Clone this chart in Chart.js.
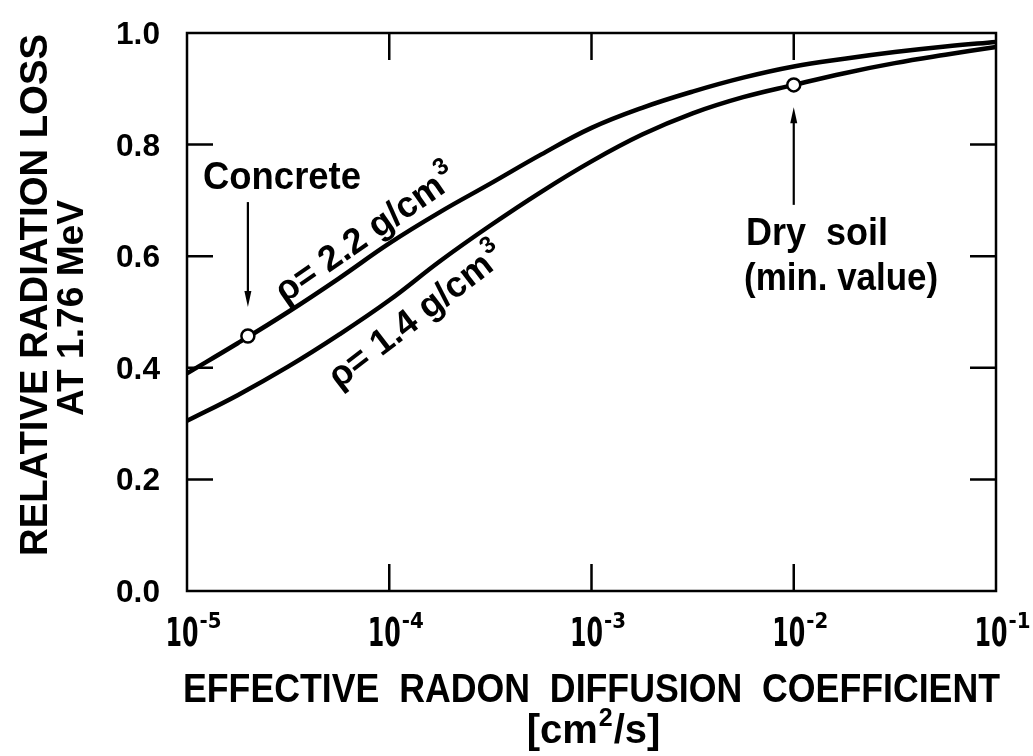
<!DOCTYPE html>
<html><head><meta charset="utf-8">
<script src="https://cdn.jsdelivr.net/npm/chart.js@4/dist/chart.umd.min.js"></script>
<style>html,body{margin:0;padding:0;background:#fff;} canvas{display:block;}</style>
</head><body>
<canvas id="c" width="1033" height="756"></canvas>
<script>
// ---- data ----
const diffusionCoeff = [1e-5, 1.78e-5, 3.16e-5, 5.62e-5, 1e-4, 1.78e-4, 3.16e-4, 5.62e-4, 1e-3, 1.78e-3, 3.16e-3, 5.62e-3, 1e-2, 1.78e-2, 3.16e-2, 5.62e-2, 1e-1];
const lossRho22 = [0.39, 0.444, 0.50, 0.56, 0.623, 0.679, 0.730, 0.782, 0.830, 0.866, 0.895, 0.920, 0.940, 0.954, 0.966, 0.976, 0.984];
const lossRho14 = [0.305, 0.351, 0.402, 0.459, 0.521, 0.591, 0.655, 0.715, 0.770, 0.818, 0.856, 0.885, 0.907, 0.928, 0.946, 0.961, 0.975];
const concretePoint = [{x: 2e-5, y: 0.457}];
const drySoilPoint = [{x: 1e-2, y: 0.907}];
const yTickValues = [0, 0.2, 0.4, 0.6, 0.8, 1.0];
const yTickLabels = ['0.0', '0.2', '0.4', '0.6', '0.8', '1.0'];
const yInnerTicks = [0.2, 0.4, 0.6, 0.8];
const xTickValues = [1e-5, 1e-4, 1e-3, 1e-2, 1e-1];
const xTickExponents = ['-5', '-4', '-3', '-2', '-1'];
const xInnerTicks = [1e-4, 1e-3, 1e-2];
const yTitleLines = ['RELATIVE RADIATION LOSS', 'AT 1.76 MeV'];
const xTitle = 'EFFECTIVE  RADON  DIFFUSION  COEFFICIENT';
const xUnitParts = ['[cm', '2', '/s]'];
const curveLabel22 = ['\u03C1= 2.2 g/cm', '3'];
const curveLabel14 = ['\u03C1= 1.4 g/cm', '3'];
const concreteText = 'Concrete';
const drySoilText = ['Dry  soil', '(min. value)'];

// ---- styling ----
const FONT = '"Liberation Sans", Arial, sans-serif';
const NARROW = '"Liberation Sans Narrow", "DejaVu Sans Condensed", "Liberation Sans", sans-serif';
const INK = '#000';

function fitText(ctx, text, x, y, font, width, align) {
  ctx.font = font;
  const w = ctx.measureText(text).width;
  const s = width ? width / w : 1;
  ctx.save();
  ctx.translate(x, y);
  ctx.scale(s, 1);
  ctx.textAlign = align || 'left';
  ctx.textBaseline = 'alphabetic';
  ctx.fillText(text, 0, 0);
  ctx.restore();
}

function arrow(ctx, x, y1, y2) {
  const dir = Math.sign(y2 - y1);
  ctx.beginPath();
  ctx.lineWidth = 2.2;
  ctx.moveTo(x, y1);
  ctx.lineTo(x, y2 - dir * 8);
  ctx.stroke();
  ctx.beginPath();
  ctx.moveTo(x, y2);
  ctx.lineTo(x - 3.5, y2 - dir * 16);
  ctx.lineTo(x + 3.5, y2 - dir * 16);
  ctx.closePath();
  ctx.fill();
}

function drawCurveLabel(ctx, chart, dsIndex, i, along, perp, parts) {
  const meta = chart.getDatasetMeta(dsIndex);
  const p1 = meta.data[i], p2 = meta.data[i + 1];
  const a = Math.atan2(p2.y - p1.y, p2.x - p1.x);
  const mx = (p1.x + p2.x) / 2, my = (p1.y + p2.y) / 2;
  const cx = mx + along * Math.cos(a) + perp * Math.sin(a);
  const cy = my + along * Math.sin(a) - perp * Math.cos(a);
  ctx.save();
  ctx.translate(cx, cy);
  ctx.rotate(a);
  ctx.font = 'bold 36px ' + FONT;
  const w1 = ctx.measureText(parts[0]).width;
  ctx.font = 'bold 24px ' + FONT;
  const w2 = ctx.measureText(parts[1]).width;
  const total = w1 + 2 + w2;
  ctx.textAlign = 'left';
  ctx.textBaseline = 'alphabetic';
  ctx.font = 'bold 36px ' + FONT;
  ctx.fillText(parts[0], -total / 2, 13);
  ctx.font = 'bold 24px ' + FONT;
  ctx.fillText(parts[1], -total / 2 + w1 + 2, -3);
  ctx.restore();
}

const decor = {
  id: 'decor',
  afterDraw(chart) {
    const ctx = chart.ctx;
    const {left, right, top, bottom} = chart.chartArea;
    const xs = chart.scales.x, ys = chart.scales.y;
    ctx.save();
    ctx.strokeStyle = INK;
    ctx.fillStyle = INK;
    ctx.lineCap = 'butt';
    // frame
    ctx.lineWidth = 2.5;
    ctx.strokeRect(left, top, right - left, bottom - top);
    // inner ticks
    ctx.beginPath();
    yInnerTicks.forEach(v => {
      const y = ys.getPixelForValue(v);
      ctx.moveTo(left, y); ctx.lineTo(left + 26, y);
      ctx.moveTo(right, y); ctx.lineTo(right - 26, y);
    });
    xInnerTicks.forEach(v => {
      const x = xs.getPixelForValue(v);
      ctx.moveTo(x, bottom); ctx.lineTo(x, bottom - 27);
      ctx.moveTo(x, top); ctx.lineTo(x, top + 27);
    });
    ctx.stroke();

    // y tick labels
    yTickValues.forEach((v, i) => {
      const y = ys.getPixelForValue(v);
      fitText(ctx, yTickLabels[i], left - 27, y + 11, 'bold 32px ' + FONT, 44, 'right');
    });
    // x tick labels 10^n
    xTickValues.forEach((v, i) => {
      const x = xs.getPixelForValue(v);
      const w10 = 33;
      const l = x - 5 - w10 / 2;
      fitText(ctx, '10', l, bottom + 55, 'bold 39px ' + NARROW, w10, 'left');
      fitText(ctx, xTickExponents[i], l + w10 + 1, bottom + 37, 'bold 22px ' + NARROW, 0, 'left');
    });

    // x title
    const cxm = (left + right) / 2;
    fitText(ctx, xTitle, cxm, 702, 'bold 40px ' + FONT, 817, 'center');
    // unit [cm2/s]
    ctx.font = 'bold 40px ' + FONT;
    const u0 = ctx.measureText(xUnitParts[0]).width;
    const u2 = ctx.measureText(xUnitParts[2]).width;
    ctx.font = 'bold 25px ' + FONT;
    const u1 = ctx.measureText(xUnitParts[1]).width;
    const tot = u0 + u1 + u2 + 2;
    let ux = cxm + 2 - tot / 2;
    ctx.textAlign = 'left';
    ctx.font = 'bold 40px ' + FONT;
    ctx.fillText(xUnitParts[0], ux, 743);
    ctx.font = 'bold 25px ' + FONT;
    ctx.fillText(xUnitParts[1], ux + u0 + 1, 726);
    ctx.font = 'bold 40px ' + FONT;
    ctx.fillText(xUnitParts[2], ux + u0 + u1 + 2, 743);

    // y title (rotated)
    ctx.save();
    ctx.translate(47, 295);
    ctx.rotate(-Math.PI / 2);
    fitText(ctx, yTitleLines[0], 0, 0, 'bold 39px ' + FONT, 522, 'center');
    ctx.restore();
    ctx.save();
    ctx.translate(83, 308);
    ctx.rotate(-Math.PI / 2);
    fitText(ctx, yTitleLines[1], 0, 0, 'bold 36px ' + FONT, 216, 'center');
    ctx.restore();

    // annotations
    const cX = xs.getPixelForValue(concretePoint[0].x);
    arrow(ctx, cX, ys.getPixelForValue(0.697), ys.getPixelForValue(0.509));
    fitText(ctx, concreteText, xs.getPixelForValue(1.2e-5), ys.getPixelForValue(0.72), 'bold 38px ' + FONT, 158, 'left');

    const dX = xs.getPixelForValue(drySoilPoint[0].x);
    arrow(ctx, dX, ys.getPixelForValue(0.692), ys.getPixelForValue(0.867));
    const dL = xs.getPixelForValue(5.68e-3);
    fitText(ctx, drySoilText[0], dL + 2, ys.getPixelForValue(0.62), 'bold 38px ' + FONT, 142, 'left');
    fitText(ctx, drySoilText[1], dL, ys.getPixelForValue(0.539), 'bold 38px ' + FONT, 194, 'left');

    drawCurveLabel(ctx, chart, 2, 3, 17, 23, curveLabel22);
    drawCurveLabel(ctx, chart, 3, 4, -20, -27, curveLabel14);
    ctx.restore();
  }
};

const toXY = ys => diffusionCoeff.map((x, i) => ({x, y: ys[i]}));
const markerStyle = {
  showLine: false, pointRadius: 6.5, pointHoverRadius: 6.5,
  pointBackgroundColor: '#fff', pointBorderColor: INK, pointBorderWidth: 2.5
};
const curveStyle = {
  borderColor: INK, borderWidth: 4.5, pointRadius: 0, fill: false,
  tension: 0.4, clip: false
};

new Chart(document.getElementById('c'), {
  type: 'line',
  data: {
    datasets: [
      Object.assign({label: 'Concrete', data: concretePoint}, markerStyle),
      Object.assign({label: 'Dry soil (min. value)', data: drySoilPoint}, markerStyle),
      Object.assign({label: '\u03C1 = 2.2 g/cm3', data: toXY(lossRho22)}, curveStyle),
      Object.assign({label: '\u03C1 = 1.4 g/cm3', data: toXY(lossRho14)}, curveStyle)
    ]
  },
  options: {
    responsive: false,
    animation: false,
    devicePixelRatio: 1,
    events: [],
    layout: {padding: {left: 187, top: 33, right: 37, bottom: 165}},
    plugins: {legend: {display: false}, tooltip: {enabled: false}},
    scales: {
      x: {type: 'logarithmic', min: 1e-5, max: 1e-1, display: false},
      y: {type: 'linear', min: 0, max: 1, display: false}
    }
  },
  plugins: [decor]
});
</script>
</body></html>
